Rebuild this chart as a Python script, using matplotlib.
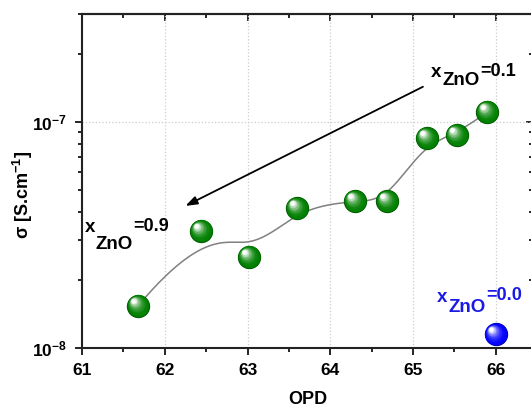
import numpy as np
import matplotlib
matplotlib.use('Agg')
import matplotlib.pyplot as plt
from matplotlib import ticker
from matplotlib.transforms import offset_copy
from matplotlib.colors import to_rgb

plt.rcParams['font.family'] = ['Liberation Sans', 'DejaVu Sans']
plt.rcParams['font.weight'] = 'bold'
plt.rcParams['mathtext.fontset'] = 'custom'
plt.rcParams['mathtext.rm'] = 'Liberation Sans:bold'
plt.rcParams['mathtext.bf'] = 'Liberation Sans:bold'
plt.rcParams['mathtext.it'] = 'Liberation Sans'

# data
opd = [61.68, 62.44, 63.02, 63.60, 64.30, 64.69, 65.17, 65.53, 65.90]
sigma = [1.54e-8, 3.30e-8, 2.53e-8, 4.16e-8, 4.47e-8, 4.47e-8, 8.49e-8, 8.75e-8, 1.11e-7]
opd_pure = [66.0]
sigma_pure = [1.15e-8]

x_ticks = [61, 62, 63, 64, 65, 66]
arrow_from = (65.12, 1.43e-7)
arrow_to = (62.25, 4.25e-8)


def bspline(px, py, n=300, k=3):
    # clamped uniform B-spline with the data as control points (like Origin's B-spline)
    px = np.asarray(px, float)
    py = np.asarray(py, float)
    m = len(px)
    knots = np.concatenate([np.zeros(k), np.linspace(0, 1, m - k + 1), np.ones(k)])
    t = np.linspace(0, 1 - 1e-9, n)

    def basis(i, d):
        if d == 0:
            return ((knots[i] <= t) & (t < knots[i + 1])).astype(float)
        out = np.zeros_like(t)
        den1 = knots[i + d] - knots[i]
        den2 = knots[i + d + 1] - knots[i + 1]
        if den1 > 0:
            out += (t - knots[i]) / den1 * basis(i, d - 1)
        if den2 > 0:
            out += (knots[i + d + 1] - t) / den2 * basis(i + 1, d - 1)
        return out

    B = np.array([basis(i, k) for i in range(m)])
    return B.T @ px, B.T @ py


def spheres(ax, x, y, color, ms=16, steps=14):
    base = np.array(to_rgb(color))
    edge = base * 0.75
    ax.plot(x, y, 'o', ms=ms, color=base, mec=edge, mew=0.8, zorder=5)
    for i in range(1, steps + 1):
        f = i / steps
        size = ms * (1 - 0.8 * f)
        c = base + (np.ones(3) - base) * f ** 2.2
        tr = offset_copy(ax.transData, fig=ax.figure, x=-0.22 * ms * f, y=0.22 * ms * f, units='points')
        ax.plot(x, y, 'o', ms=size, color=c, mew=0, transform=tr, zorder=5 + i * 0.01)


def label(ax, xy, value, color, drop=6.5, fs=13.5):
    # x with subscript ZnO and raised "=value", drawn piece by piece
    fig = ax.figure
    fig.canvas.draw()
    r = fig.canvas.get_renderer()
    t1 = ax.annotate('x', xy, xycoords='data', fontsize=fs, color=color, fontweight='bold')
    w1 = t1.get_window_extent(r).width * 72 / fig.dpi
    t2 = ax.annotate('ZnO', xy, xycoords='data', xytext=(w1 + 0.5, -drop), textcoords='offset points',
                     fontsize=fs, color=color, fontweight='bold')
    w2 = t2.get_window_extent(r).width * 72 / fig.dpi
    ax.annotate('=' + value, xy, xycoords='data', xytext=(w1 + w2 + 1, 1), textcoords='offset points',
                fontsize=fs - 0.5, color=color, fontweight='bold')


fig = plt.figure(figsize=(5.31, 4.08), dpi=100)
ax = fig.add_axes([82 / 531, 60 / 408, 451 / 531, 334 / 408])

ax.set_yscale('log')
ax.set_xlim(61, 66.45)
ax.set_ylim(1e-8, 3e-7)

ax.grid(True, which='major', linestyle=':', color='#cccccc', lw=0.9)
ax.set_axisbelow(True)

cx, cy = bspline(opd, np.log10(sigma))
ax.plot(cx, 10 ** cy, color='#808080', lw=1.1, zorder=3)

spheres(ax, opd, sigma, '#008000')
spheres(ax, opd_pure, sigma_pure, '#0000ff')

ax.annotate('', xy=arrow_to, xytext=arrow_from,
            arrowprops=dict(arrowstyle='-|>,head_length=0.7,head_width=0.25', color='black', lw=1.3,
                            shrinkA=0, shrinkB=0))

label(ax, (65.22, 1.58e-7), '0.1', 'black', drop=6)
label(ax, (61.03, 3.25e-8), '0.9', 'black', drop=12)
label(ax, (65.29, 1.6e-8), '0.0', '#1a1ae6', drop=7)

ax.set_xticks(x_ticks)
ax.xaxis.set_minor_locator(ticker.MultipleLocator(0.5))
ax.yaxis.set_major_locator(ticker.LogLocator(base=10))
ax.yaxis.set_minor_locator(ticker.LogLocator(base=10, subs=np.arange(2, 10)))
ax.yaxis.set_major_formatter(ticker.FuncFormatter(lambda v, p: r'$\mathbf{10^{%d}}$' % round(np.log10(v))))
ax.yaxis.set_minor_formatter(ticker.NullFormatter())
ax.tick_params(which='both', direction='out', width=1.2, labelsize=12.5, top=False, right=False)
ax.tick_params(which='major', length=5, pad=6)
ax.tick_params(which='minor', length=3)
for lab in ax.get_xticklabels():
    lab.set_fontweight('bold')

top = ax.secondary_xaxis('top')
top.set_xticks(x_ticks)
top.xaxis.set_minor_locator(ticker.MultipleLocator(0.5))
top.tick_params(which='both', direction='in', width=1.2, labeltop=False)
top.tick_params(which='major', length=5)
top.tick_params(which='minor', length=3)
right = ax.secondary_yaxis('right')
right.yaxis.set_major_locator(ticker.LogLocator(base=10))
right.yaxis.set_minor_locator(ticker.LogLocator(base=10, subs=np.arange(2, 10)))
right.yaxis.set_major_formatter(ticker.NullFormatter())
right.yaxis.set_minor_formatter(ticker.NullFormatter())
right.tick_params(which='both', direction='in', width=1.2)
right.tick_params(which='major', length=5)
right.tick_params(which='minor', length=3)

for s in list(ax.spines.values()) + [top.spines['top'], right.spines['right']]:
    s.set_linewidth(1.5)
    s.set_color('#222222')

ax.set_xlabel('OPD', fontsize=13, fontweight='bold', labelpad=9)
ax.set_ylabel(r'$\sigma$ [S.cm$^{\mathbf{-1}}$]', fontsize=13, fontweight='bold')
ax.yaxis.set_label_coords(-0.105, 0.46)

fig.savefig('out.png', dpi=100)
